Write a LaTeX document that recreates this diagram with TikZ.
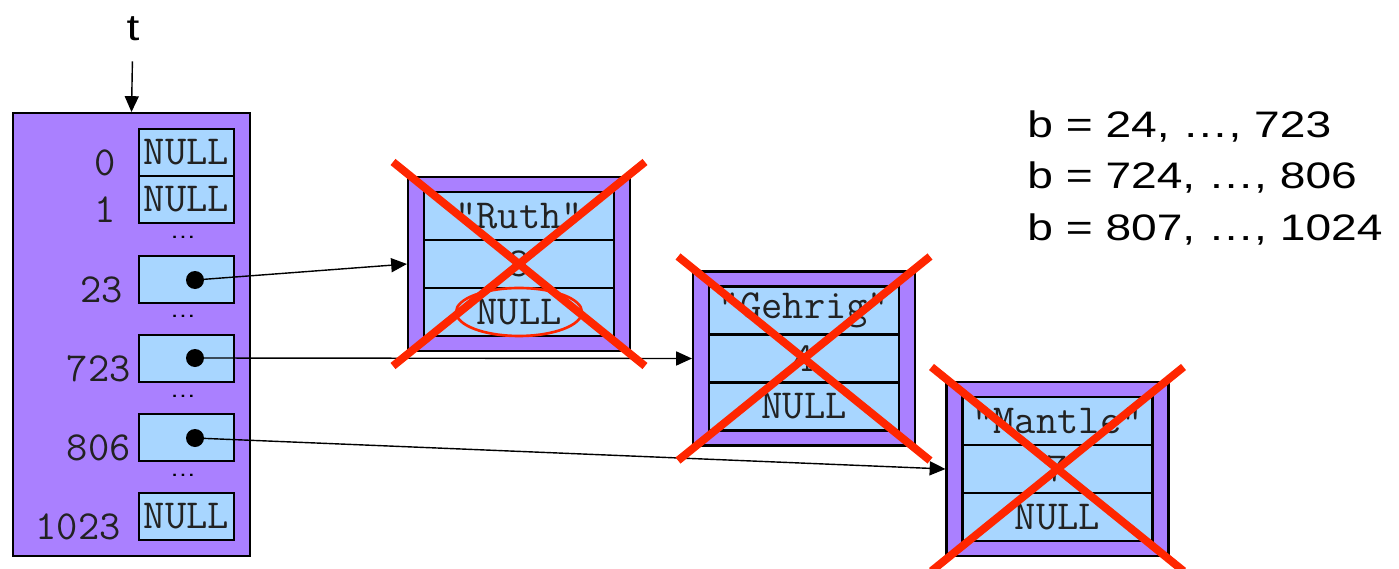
\documentclass[tikz,border=0pt]{standalone}
\usepackage{fontspec}
\usepackage{tikz}
\usetikzlibrary{positioning, arrows.meta}
\newfontfamily\note[FakeStretch=1.25]{Liberation Sans}
\definecolor{recpurple}{RGB}{170,128,255}
\definecolor{cellblue}{RGB}{168,214,255}
\definecolor{xred}{RGB}{255,38,0}
\definecolor{inkc}{RGB}{34,34,34}

\begin{document}
\begin{tikzpicture}[x=0.02cm, y=-0.02cm,
  slot/.style={draw, line width=1.4pt, fill=cellblue, minimum width=1.9cm,
    minimum height=0.94cm, inner sep=0pt, outer sep=0pt,
    font=\ttfamily\fontsize{23.5}{23.5}\selectfont, text=inkc},
  idx/.style={inner sep=0pt, font=\ttfamily\fontsize{23.5}{23.5}\selectfont, text=inkc},
  rec/.style={draw, line width=1.2pt, fill=recpurple, minimum width=4.44cm,
    minimum height=3.48cm, inner sep=0pt},
  field/.style={draw, line width=1.4pt, fill=cellblue, minimum width=3.8cm,
    minimum height=0.96cm, inner sep=0pt, outer sep=0pt,
    font=\ttfamily\fontsize{23.5}{23.5}\selectfont, text=inkc},
  ptr/.style={line width=0.8pt, -{Triangle[length=9pt, width=8pt]}},
  dot/.style={circle, fill=black, minimum size=0.36cm, inner sep=0pt},
  gap/.style={inner sep=0pt, font=\note\fontsize{12}{12}\selectfont},
  cross/.style={xred, line width=4.5pt},
  note/.style={inner sep=0pt, font=\note\fontsize{21}{21}\selectfont}]
  \useasboundingbox (0,0) rectangle (1399,568);

  % the table t
  \node[note] (t) at (133,29) {t};
  \node[rec, minimum width=4.74cm, minimum height=8.86cm] (tbl) at (131.5,334.5) {};
  \draw[ptr, shorten <=0.4cm] (t) -- (tbl.north);
  \foreach \k/\y/\ex/\txt in {0/152.5/116/NULL, 1/199.5/116/NULL, 23/279.5/123/{},
      723/358.5/131/{}, 806/437.5/131/{}, 1023/516.5/121/NULL} {
    \node[slot] (s\k) at (186.5,\y) {\txt};
    \node[idx, anchor=base east] (i\k) at (\ex,\y+23) {\k};
  }
  \foreach \n/\y in {1/237, 2/316, 3/396, 4/475}
    \node[gap] (d\n) at (183,\y) {\dots};
  \node[dot] (p23) at (195,280) {};
  \node[dot] (p723) at (195,358) {};
  \node[dot] (p806) at (195,438) {};

  % the records
  \foreach \nm/\cx/\cy/\who/\num in {ruth/519/264/Ruth/3,
      gehrig/804/358.5/Gehrig/4, mantle/1057.5/469/Mantle/7} {
    \node[rec] (\nm) at (\cx,\cy) {};
    \node[field] (\nm-2) at (\nm) {\num};
    \node[field, above=0pt of \nm-2] (\nm-1) {"\who"};
    \node[field, below=0pt of \nm-2] (\nm-3) {NULL};
  }
  \draw[xred, line width=1.5pt] (ruth-3) ellipse [x radius=1.26cm, y radius=0.48cm];

  \draw[ptr] (p23.center) -- (ruth.west);
  \draw[ptr] (p723.center) -- (gehrig.west);
  \draw[ptr] (p806.center) -- (mantle.west);

  % struck out
  \foreach \nm in {ruth, gehrig, mantle} {
    \draw[cross] ([shift={(-126,-102)}]\nm.center) -- ([shift={(126,102)}]\nm.center);
    \draw[cross] ([shift={(126,-102)}]\nm.center) -- ([shift={(-126,102)}]\nm.center);
  }

  \node[note, anchor=base west] (b1) at (1027,137) {b = 24, \dots, 723};
  \node[note, anchor=base west] (b2) at (1027,188) {b = 724, \dots, 806};
  \node[note, anchor=base west] (b3) at (1027,240) {b = 807, \dots, 1024};
\end{tikzpicture}
\end{document}
